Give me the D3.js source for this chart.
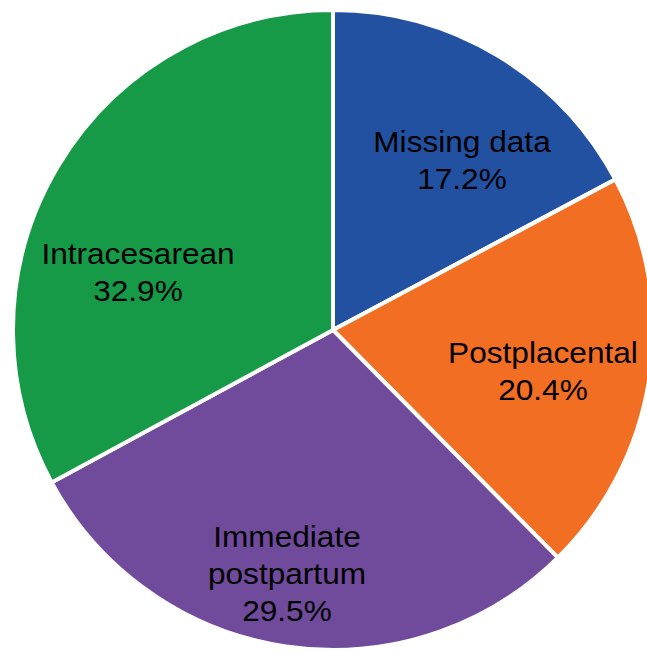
<!DOCTYPE html>
<html>
<head>
<meta charset="utf-8">
<script src="https://cdn.jsdelivr.net/npm/d3@7"></script>
<style>
  html, body { margin: 0; padding: 0; background: #fff; }
  svg { display: block; }
</style>
</head>
<body>
<svg id="chart" width="647" height="650"></svg>
<script>
// Timing of insertion, share of cases
const categories = ["Missing data", "Postplacental", "Immediate postpartum", "Intracesarean"];
const values = [17.2, 20.4, 29.5, 32.9];
const colors = ["#2351a2", "#f26e22", "#704a9b", "#169a48"];
// Label lines for each slice (name split over lines, then the percentage)
const labelLines = [
  ["Missing data"],
  ["Postplacental"],
  ["Immediate", "postpartum"],
  ["Intracesarean"]
];
// Label anchor offsets from the pie centre (x, y of first baseline)
const labelOffsets = [
  [129, -178],
  [210, 33],
  [-46, 217],
  [-195, -66]
];

const width = 647, height = 650;
const cx = 333, cy = 330, radius = 320;
const lineHeight = 37;

const svg = d3.select("#chart");
const g = svg.append("g").attr("transform", `translate(${cx},${cy})`);

const data = categories.map((c, i) => ({ name: c, value: values[i], i }));

const pie = d3.pie().sort(null).value(d => d.value).startAngle(0).endAngle(2 * Math.PI);
const arc = d3.arc().innerRadius(0).outerRadius(radius);

const arcs = pie(data);

g.selectAll("path.slice")
  .data(arcs)
  .join("path")
  .attr("class", "slice")
  .attr("d", arc)
  .attr("fill", d => colors[d.data.i])
  .attr("stroke", "#ffffff")
  .attr("stroke-width", 4)
  .attr("stroke-linejoin", "miter");

// Labels: slightly wide lettering, centred on each anchor
const labels = g.selectAll("text.label")
  .data(arcs)
  .join("text")
  .attr("class", "label")
  .attr("transform", d => {
    const [ox, oy] = labelOffsets[d.data.i];
    return `translate(${ox},${oy}) scale(1.09,1)`;
  })
  .attr("text-anchor", "middle")
  .attr("font-family", "'Liberation Sans', Arial, sans-serif")
  .attr("font-size", 29)
  .attr("fill", "#000");

labels.each(function(d) {
  const t = d3.select(this);
  const lines = labelLines[d.data.i].concat([d3.format(".1f")(d.data.value) + "%"]);
  lines.forEach((line, k) => {
    t.append("tspan")
      .attr("x", 0)
      .attr("y", k * lineHeight)
      .text(line);
  });
});
</script>
</body>
</html>
